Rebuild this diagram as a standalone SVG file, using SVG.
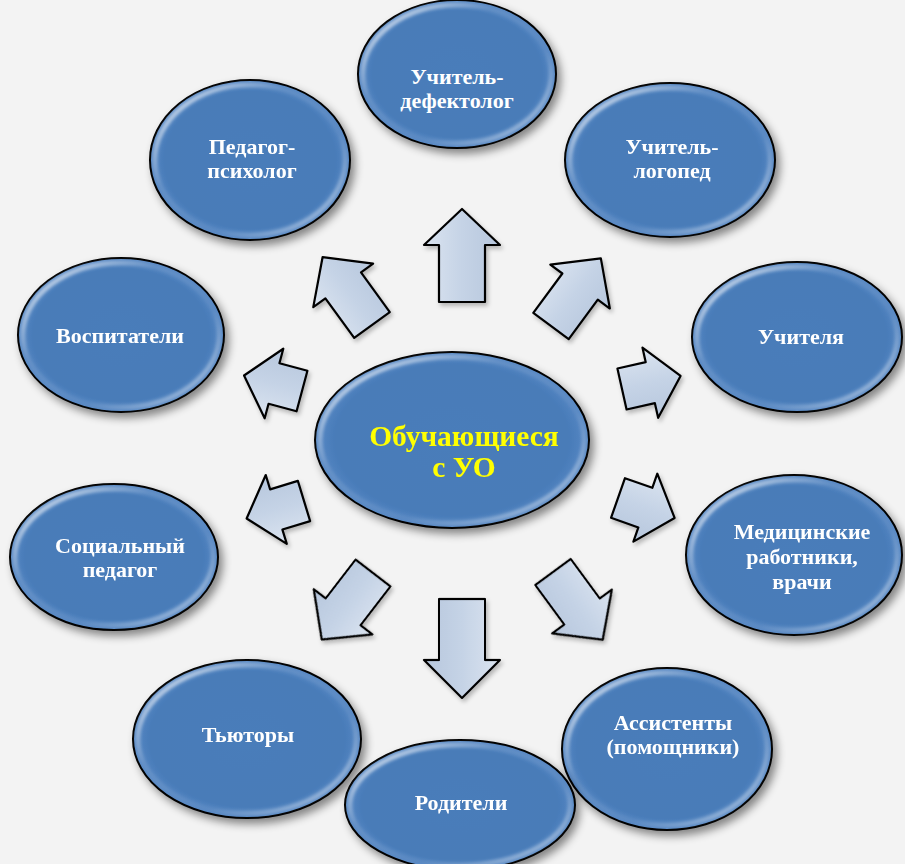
<svg xmlns="http://www.w3.org/2000/svg" width="905" height="864" viewBox="0 0 905 864">
<defs>
<style>
.node{fill:url(#nodeFill);stroke:#000;stroke-width:2;}
.ring{fill:none;stroke:url(#ringGrad);stroke-width:5;filter:url(#soft);}
.lbl{font-family:"Liberation Serif","Times New Roman",serif;font-weight:bold;font-size:22px;fill:#fff;text-anchor:middle;}
.center-lbl{font-family:"Liberation Serif","Times New Roman",serif;font-weight:bold;font-size:29.5px;fill:#ffff00;text-anchor:middle;}
.arr{fill:url(#arrFill);stroke:#000;stroke-width:2.2;stroke-linejoin:round;}
</style>
<radialGradient id="nodeFill" cx="0.5" cy="0.5" r="0.5">
<stop offset="0" stop-color="#4a7dba"/>
<stop offset="0.85" stop-color="#487bb8"/>
<stop offset="1" stop-color="#5889c5"/>
</radialGradient>
<linearGradient id="ringGrad" x1="0" y1="0" x2="1" y2="1">
<stop offset="0" stop-color="#ffffff" stop-opacity="0.85"/>
<stop offset="0.35" stop-color="#ffffff" stop-opacity="0.1"/>
<stop offset="0.65" stop-color="#ffffff" stop-opacity="0.05"/>
<stop offset="1" stop-color="#ffffff" stop-opacity="0.55"/>
</linearGradient>
<linearGradient id="arrFill" x1="0" y1="0" x2="0" y2="1">
<stop offset="0" stop-color="#dbe4f0"/>
<stop offset="0.5" stop-color="#c5d3e6"/>
<stop offset="1" stop-color="#b7c7dd"/>
</linearGradient>
<filter id="soft" x="-10%" y="-10%" width="120%" height="120%">
<feGaussianBlur stdDeviation="1.5"/>
</filter>
<filter id="shadow" x="-20%" y="-20%" width="150%" height="150%">
<feDropShadow dx="4" dy="5" stdDeviation="4" flood-color="#000" flood-opacity="0.45"/>
</filter>
<filter id="ashadow" x="-20%" y="-20%" width="150%" height="150%">
<feDropShadow dx="2" dy="3" stdDeviation="2" flood-color="#000" flood-opacity="0.25"/>
</filter>
<path id="arrLong" d="M0,-22 H49 V-37 L84,0 L49,37 V22 H0 Z"/>
<path id="arrShort" d="M0,-21 H29 V-36 L60,0 L29,36 V21 H0 Z"/>
</defs>
<rect width="905" height="864" fill="#f3f3f3"/>

<g id="connectors" filter="url(#ashadow)">
<path class="arr" d="M0,-23 H57 V-38 L93,0 L57,38 V23 H0 Z" transform="translate(462,302) rotate(-90)"/>
<path class="arr" d="M0,-23 H61 V-38 L99,0 L61,38 V23 H0 Z" transform="translate(462,599) rotate(90)"/>
<use href="#arrLong" class="arr" transform="translate(551,326) rotate(-53.6)"/>
<use href="#arrLong" class="arr" transform="translate(553,572) rotate(53.7)"/>
<use href="#arrLong" class="arr" transform="translate(373,573) rotate(127.6)"/>
<use href="#arrLong" class="arr" transform="translate(372,325) rotate(-126)"/>
<use href="#arrShort" class="arr" transform="translate(622,389) rotate(-12.6)"/>
<use href="#arrShort" class="arr" transform="translate(618,498) rotate(19.4)"/>
<use href="#arrShort" class="arr" transform="translate(304,501) rotate(163)"/>
<use href="#arrShort" class="arr" transform="translate(302,391) rotate(-165)"/>
</g>

<g id="center">
<ellipse class="node" cx="452" cy="440" rx="137" ry="88" filter="url(#shadow)"/>
<ellipse class="ring" cx="452" cy="440" rx="132" ry="83"/>
<text class="center-lbl" x="464" y="446">Обучающиеся</text>
<text class="center-lbl" x="464" y="477">с УО</text>
</g>

<g id="n-defektolog">
<ellipse class="node" cx="457" cy="74" rx="99" ry="74" filter="url(#shadow)"/>
<ellipse class="ring" cx="457" cy="74" rx="94" ry="69"/>
<text class="lbl" x="457" y="84">Учитель-</text>
<text class="lbl" x="457" y="108">дефектолог</text>
</g>

<g id="n-psiholog">
<ellipse class="node" cx="250" cy="160" rx="100" ry="80" filter="url(#shadow)"/>
<ellipse class="ring" cx="250" cy="160" rx="95" ry="75"/>
<text class="lbl" x="252" y="154">Педагог-</text>
<text class="lbl" x="252" y="178">психолог</text>
</g>

<g id="n-logoped">
<ellipse class="node" cx="670" cy="160" rx="105" ry="77" filter="url(#shadow)"/>
<ellipse class="ring" cx="670" cy="160" rx="100" ry="72"/>
<text class="lbl" x="672" y="154">Учитель-</text>
<text class="lbl" x="672" y="178">логопед</text>
</g>

<g id="n-uchitelya">
<ellipse class="node" cx="797" cy="337" rx="105" ry="75" filter="url(#shadow)"/>
<ellipse class="ring" cx="797" cy="337" rx="100" ry="70"/>
<text class="lbl" x="801" y="344">Учителя</text>
</g>

<g id="n-vospitateli">
<ellipse class="node" cx="121" cy="335" rx="103" ry="77" filter="url(#shadow)"/>
<ellipse class="ring" cx="121" cy="335" rx="98" ry="72"/>
<text class="lbl" x="120" y="343">Воспитатели</text>
</g>

<g id="n-medic">
<ellipse class="node" cx="794" cy="555" rx="108" ry="80" filter="url(#shadow)"/>
<ellipse class="ring" cx="794" cy="555" rx="103" ry="75"/>
<text class="lbl" x="802" y="539">Медицинские</text>
<text class="lbl" x="802" y="564">работники,</text>
<text class="lbl" x="802" y="589">врачи</text>
</g>

<g id="n-socped">
<ellipse class="node" cx="114" cy="557" rx="104" ry="73" filter="url(#shadow)"/>
<ellipse class="ring" cx="114" cy="557" rx="99" ry="68"/>
<text class="lbl" x="120" y="553">Социальный</text>
<text class="lbl" x="120" y="577">педагог</text>
</g>

<g id="n-tyutory">
<ellipse class="node" cx="247" cy="739" rx="114" ry="79" filter="url(#shadow)"/>
<ellipse class="ring" cx="247" cy="739" rx="109" ry="74"/>
<text class="lbl" x="248" y="742">Тьюторы</text>
</g>

<g id="n-assistenty">
<ellipse class="node" cx="667" cy="749" rx="105" ry="81" filter="url(#shadow)"/>
<ellipse class="ring" cx="667" cy="749" rx="100" ry="76"/>
<text class="lbl" x="673" y="730">Ассистенты</text>
<text class="lbl" x="673" y="754">(помощники)</text>
</g>

<g id="n-roditeli">
<ellipse class="node" cx="460" cy="805" rx="115" ry="65" filter="url(#shadow)"/>
<ellipse class="ring" cx="460" cy="805" rx="110" ry="60"/>
<text class="lbl" x="461" y="810">Родители</text>
</g>
</svg>
